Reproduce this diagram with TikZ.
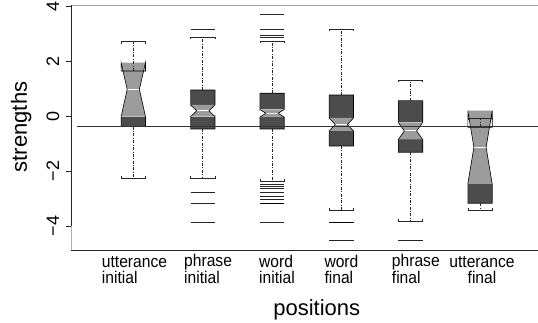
\documentclass[tikz,border=0pt]{standalone}
\usepackage{fontspec}
\setmainfont{Liberation Sans}
\newfontfamily\narrowfont[FakeStretch=0.92]{Liberation Sans}
\definecolor{darkfill}{gray}{0.30}
\definecolor{lightfill}{gray}{0.61}
\tikzset{
  boxline/.style={draw=black, line width=0.6pt, line join=miter},
  whisk/.style={draw=black!85, line width=0.65pt, dash pattern=on 3pt off 1.5pt on 0.8pt off 1.5pt},
  capline/.style={draw=black!85, line width=0.6pt},
  outl/.style={draw=black!85, line width=0.7pt},
  thickoutl/.style={draw=black, line width=1.3pt},
  ticklab/.style={rotate=90, anchor=base, font=\fontsize{18}{18}\selectfont, inner sep=0pt},
  catlab/.style={anchor=base west, align=left, inner sep=0pt, font=\narrowfont\fontsize{17}{15.6}\selectfont},
}
\newcommand\bw{12.2}
\newcommand\nw{6.1}
% #1 x, #2 capT, #3 Q3, #4 nHi, #5 med, #6 nLo, #7 Q1, #8 capB
\newcommand\mybox[8]{%
  \fill[darkfill] ({#1-\bw},#3) rectangle ({#1+\bw},{max(#3,#4)});
  \fill[darkfill] ({#1-\bw},{min(#6,#7)}) rectangle ({#1+\bw},#7);
  \fill[lightfill] ({#1-\bw},#4) -- ({#1-\nw},#5) -- ({#1-\bw},#6) -- ({#1+\bw},#6) -- ({#1+\nw},#5) -- ({#1+\bw},#4) -- cycle;
  \draw[white, line width=1pt] ({#1-\nw},#5) -- ({#1+\nw},#5);
  \draw[boxline] ({#1-\bw},#7) -- ({#1-\bw},#6) -- ({#1-\nw},#5) -- ({#1-\bw},#4) -- ({#1-\bw},#3) -- ({#1+\bw},#3) -- ({#1+\bw},#4) -- ({#1+\nw},#5) -- ({#1+\bw},#6) -- ({#1+\bw},#7) -- cycle;
  \draw[whisk] (#1,#3) -- (#1,#2);
  \draw[whisk] (#1,#7) -- (#1,#8);
  \draw[capline] ({#1-\bw},{#2+2.2}) -- ({#1-\bw},#2) -- ({#1+\bw},#2) -- ({#1+\bw},{#2+2.2});
  \draw[capline] ({#1-\bw},{#8-2.2}) -- ({#1-\bw},#8) -- ({#1+\bw},#8) -- ({#1+\bw},{#8-2.2});
}
\newcommand\outs[2]{\foreach \yy in {#2} {\draw[outl] ({#1-\bw},\yy) -- ({#1+\bw},\yy);}}
\begin{document}
\begin{tikzpicture}[x=1pt,y=-1pt]
\useasboundingbox (0,0) rectangle (538,323);
% frame
\draw[gray!70, line width=0.8pt] (71,5.5) -- (538,5.5);
\draw[black!85, line width=0.8pt] (71,5.5) -- (71,226);
\draw[gray!60, line width=0.8pt] (71,226) -- (71,250);
\draw[black!85, line width=0.8pt] (71,250) -- (538,250);
\foreach \v/\lab in {4/4,2/2,0/0,-2/−2,-4/−4} {
  \draw[black!85, line width=0.6pt] (65.5,{116-27.5*\v}) -- (71,{116-27.5*\v});
  \node[ticklab] at (59,{116-27.5*\v}) {\lab};
}
% boxes
\mybox{133.3}{41.7}{71}{62.7}{89.3}{116.7}{126.7}{178.3}
\mybox{202.8}{37}{90}{105}{110.8}{116.6}{129}{178}
\outs{202.8}{29.3,192.7,203.7,222.7}
\mybox{272}{41.3}{93.3}{109.5}{113.3}{117.1}{129}{181}
\outs{272}{14.3,29.3,35,37.5,184.3,186.3,188.5,192.7,196.7,199,222.7}
\draw[thickoutl] ({272-\bw},203.7) -- ({272+\bw},203.7);
\mybox{341.3}{29.3}{95}{118}{124.5}{131}{146}{210.7}
\outs{341.3}{240.7}
\draw[thickoutl] ({341.3-\bw},222.7) -- ({341.3+\bw},222.7);
\mybox{410.5}{80}{100.7}{122.5}{131}{139.5}{152.3}{221.5}
\outs{410.5}{240.7}
\mybox{480}{118.3}{127.3}{110.7}{147.3}{184}{203.3}{210}
% reference line
\draw[black!80, line width=0.7pt] (77,126.7) -- (538,126.7);
% category labels
\node[catlab] at (101.7,283.3) {utterance\\initial};
\node[catlab] at (184,283.3) {phrase\\initial};
\node[catlab] at (259,283.3) {word\\initial};
\node[catlab] at (324.3,283.3) {word\\final};
\node[catlab] at (391.7,283.3) {phrase\\final};
\node[anchor=base, align=center, inner sep=0pt, font=\narrowfont\fontsize{17}{15.6}\selectfont] at (482,283.3) {utterance\\final};
% axis titles
\node[anchor=base, inner sep=0pt, font=\fontsize{22}{22}\selectfont] at (316.7,315) {positions};
\node[rotate=90, anchor=base, inner sep=0pt, font=\fontsize{22}{22}\selectfont] at (27,127) {strengths};
\end{tikzpicture}
\end{document}
